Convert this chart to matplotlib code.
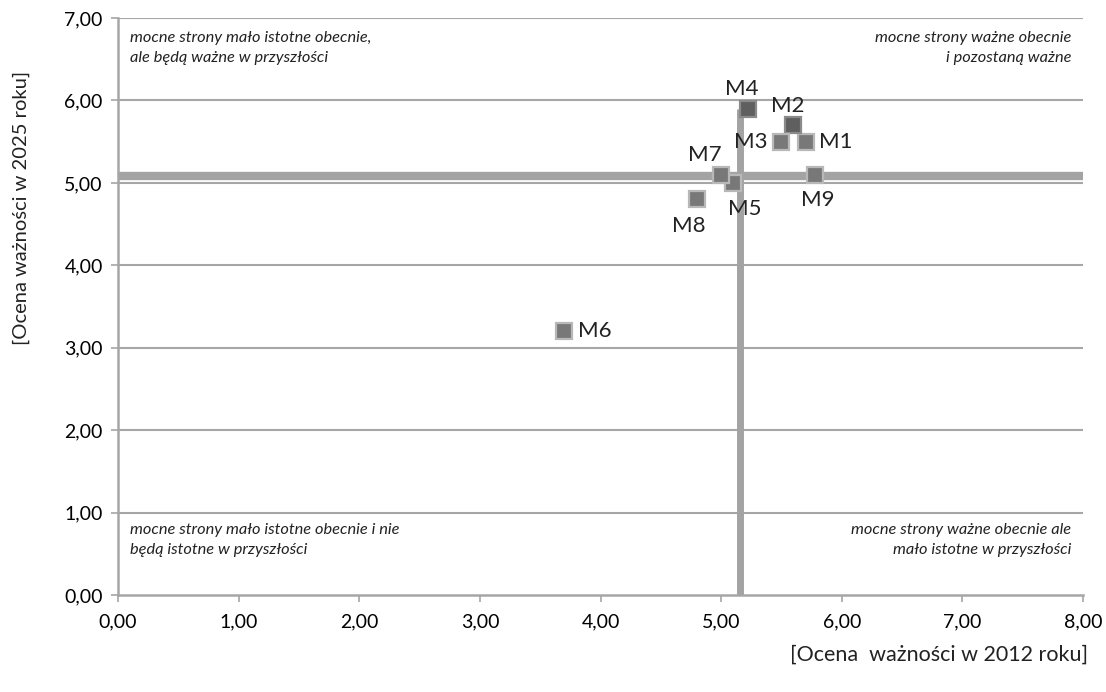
import matplotlib
matplotlib.use("Agg")
import matplotlib.pyplot as plt
from matplotlib.ticker import FixedLocator

labels = ["M1", "M2", "M3", "M4", "M5", "M6", "M7", "M8", "M9"]
x_2012 = [5.70, 5.60, 5.50, 5.22, 5.10, 3.70, 5.00, 4.80, 5.78]
y_2025 = [5.50, 5.70, 5.50, 5.90, 5.00, 3.20, 5.10, 4.80, 5.10]
dark = ["M2", "M4"]
x_ticks = [0, 1, 2, 3, 4, 5, 6, 7, 8]
y_ticks = [0, 1, 2, 3, 4, 5, 6, 7]
mean_x = sum(x_2012) / len(x_2012)
mean_y = sum(y_2025) / len(y_2025)

# label offsets (points)
offsets = {
    "M1": (10, 0, "left", "center"),
    "M2": (-4, 14, "center", "center"),
    "M3": (-10, 0, "right", "center"),
    "M4": (-4, 14, "center", "center"),
    "M5": (8, -19, "center", "center"),
    "M6": (10, 0, "left", "center"),
    "M7": (-12, 14, "center", "center"),
    "M8": (-6, -19, "center", "center"),
    "M9": (2, -18, "center", "center"),
}

plt.rcParams['font.family'] = ['Lato', 'DejaVu Sans']
fig = plt.figure(figsize=(11.06, 6.92), dpi=100)
ax = fig.add_axes([0.1067, 0.140, 0.8725, 0.834])
ax.set_xlim(0, 8)
ax.set_ylim(0, 7)

grid_c = "#a6a6a6"
for yv in y_ticks[1:]:
    ax.axhline(yv, color=grid_c, lw=1.5, zorder=1)

for s in ["top", "right"]:
    ax.spines[s].set_visible(False)
for s in ["left", "bottom"]:
    ax.spines[s].set_color(grid_c)
    ax.spines[s].set_linewidth(1.8)

# mean lines
ax.plot([0, 8], [mean_y, mean_y], color="#a3a3a3", lw=6, solid_capstyle="butt", zorder=2)
ax.plot([mean_x, mean_x], [0, max(y_2025)], color="#a3a3a3", lw=5, solid_capstyle="butt", zorder=2)

for lab, xv, yv in zip(labels, x_2012, y_2025):
    fc = "#5f5f5f" if lab in dark else "#787878"
    ec = "#8a8a8a" if lab in dark else "#b8b8b8"
    ax.plot(xv, yv, marker="s", ms=11, mfc=fc, mec=ec, mew=1.6, zorder=5, ls="none")
    dx, dy, ha, va = offsets[lab]
    ax.annotate(lab, (xv, yv), xytext=(dx, dy), textcoords="offset points",
                ha=ha, va=va, fontsize=16, color="#222222", zorder=6)

ax.xaxis.set_major_locator(FixedLocator(x_ticks))
ax.yaxis.set_major_locator(FixedLocator(y_ticks))
ax.set_xticklabels([f"{v:.2f}".replace(".", ",") for v in x_ticks], fontsize=14)
ax.set_yticklabels([f"{v:.2f}".replace(".", ",") for v in y_ticks], fontsize=14)
ax.tick_params(axis="x", length=5, color=grid_c, width=1.2, pad=8)
ax.tick_params(axis="y", length=5, color=grid_c, width=1.2, pad=6)

qkw = dict(fontsize=11.8, style="italic", color="#222222", transform=ax.transAxes, linespacing=1.55)
ax.text(0.012, 0.978, "mocne strony mało istotne obecnie,\nale będą ważne w przyszłości", ha="left", va="top", **qkw)
ax.text(0.988, 0.978, "mocne strony ważne obecnie\ni pozostaną ważne", ha="right", va="top", multialignment="right", **qkw)
ax.text(0.012, 0.125, "mocne strony mało istotne obecnie i nie\nbędą istotne w przyszłości", ha="left", va="top", **qkw)
ax.text(0.988, 0.125, "mocne strony ważne obecnie ale\nmało istotne w przyszłości", ha="right", va="top", multialignment="right", **qkw)

fig.text(0.019, 0.70, "[Ocena ważności w 2025 roku]", rotation=90, ha="center", va="center", fontsize=14.5, color="#222222")
fig.text(0.984, 0.054, "[Ocena  ważności w 2012 roku]", ha="right", va="center", fontsize=15.5, color="#222222")

fig.savefig("out.png", dpi=100)
